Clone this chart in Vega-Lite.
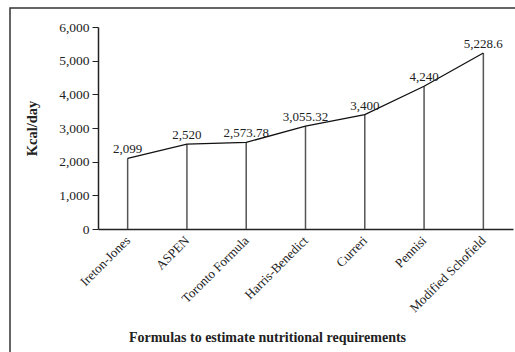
{
  "$schema": "https://vega.github.io/schema/vega-lite/v6.json",
  "autosize": "none",
  "padding": {"left": 10, "top": 8, "right": 0, "bottom": 0},
  "width": 520,
  "height": 352,
  "background": "white",
  "config": {
    "font": "Liberation Serif",
    "view": {"stroke": "#333333", "strokeWidth": 1.5},
    "axis": {"labelFont": "Liberation Serif", "titleFont": "Liberation Serif", "labelColor": "#222222", "titleColor": "#222222", "domainColor": "#222222", "tickColor": "#222222", "grid": false}
  },
  "data": {
    "values": [
      {"formula": "Ireton-Jones", "kcal": 2099, "label": "2,099"},
      {"formula": "ASPEN", "kcal": 2520, "label": "2,520"},
      {"formula": "Toronto Formula", "kcal": 2573.78, "label": "2,573.78"},
      {"formula": "Harris-Benedict", "kcal": 3055.32, "label": "3,055.32"},
      {"formula": "Curreri", "kcal": 3400, "label": "3,400"},
      {"formula": "Pennisi", "kcal": 4240, "label": "4,240"},
      {"formula": "Modified Schofield", "kcal": 5228.6, "label": "5,228.6"}
    ]
  },
  "encoding": {
    "x": {
      "field": "formula",
      "type": "nominal",
      "sort": null,
      "scale": {"type": "point", "padding": 0.5, "range": [88, 503]},
      "axis": {
        "title": "Formulas to estimate nutritional requirements",
        "offset": -131,
        "labelAngle": -45,
        "labelAlign": "right",
        "labelBaseline": "middle",
        "labelFontSize": 13,
        "labelPadding": 9,
        "ticks": false,
        "domainWidth": 1.5,
        "titleFontSize": 14,
        "titleFontWeight": "bold",
        "titleX": 257,
        "titleY": 108,
        "titleAlign": "center",
        "titleBaseline": "middle"
      }
    },
    "y": {
      "field": "kcal",
      "type": "quantitative",
      "scale": {"domain": [0, 6000], "range": [221, 19], "nice": false, "zero": true},
      "axis": {
        "title": "Kcal/day",
        "offset": -88,
        "values": [0, 1000, 2000, 3000, 4000, 5000, 6000],
        "format": ",.0f",
        "labelFontSize": 13.5,
        "labelPadding": 3,
        "tickSize": 6,
        "domainWidth": 1.5,
        "titleFontSize": 14.5,
        "titleFontWeight": "bold",
        "titleX": -66,
        "titleY": 120,
        "titleAngle": 270,
        "titleAlign": "center",
        "titleBaseline": "middle"
      }
    }
  },
  "layer": [
    {
      "mark": {"type": "rule", "color": "#555555", "strokeWidth": 1.5},
      "encoding": {"y2": {"datum": 0}}
    },
    {
      "mark": {"type": "line", "color": "#111111", "strokeWidth": 1.3}
    },
    {
      "mark": {"type": "text", "baseline": "alphabetic", "align": "center", "dy": -5, "fontSize": 13, "color": "#222222"},
      "encoding": {"text": {"field": "label"}}
    }
  ]
}
